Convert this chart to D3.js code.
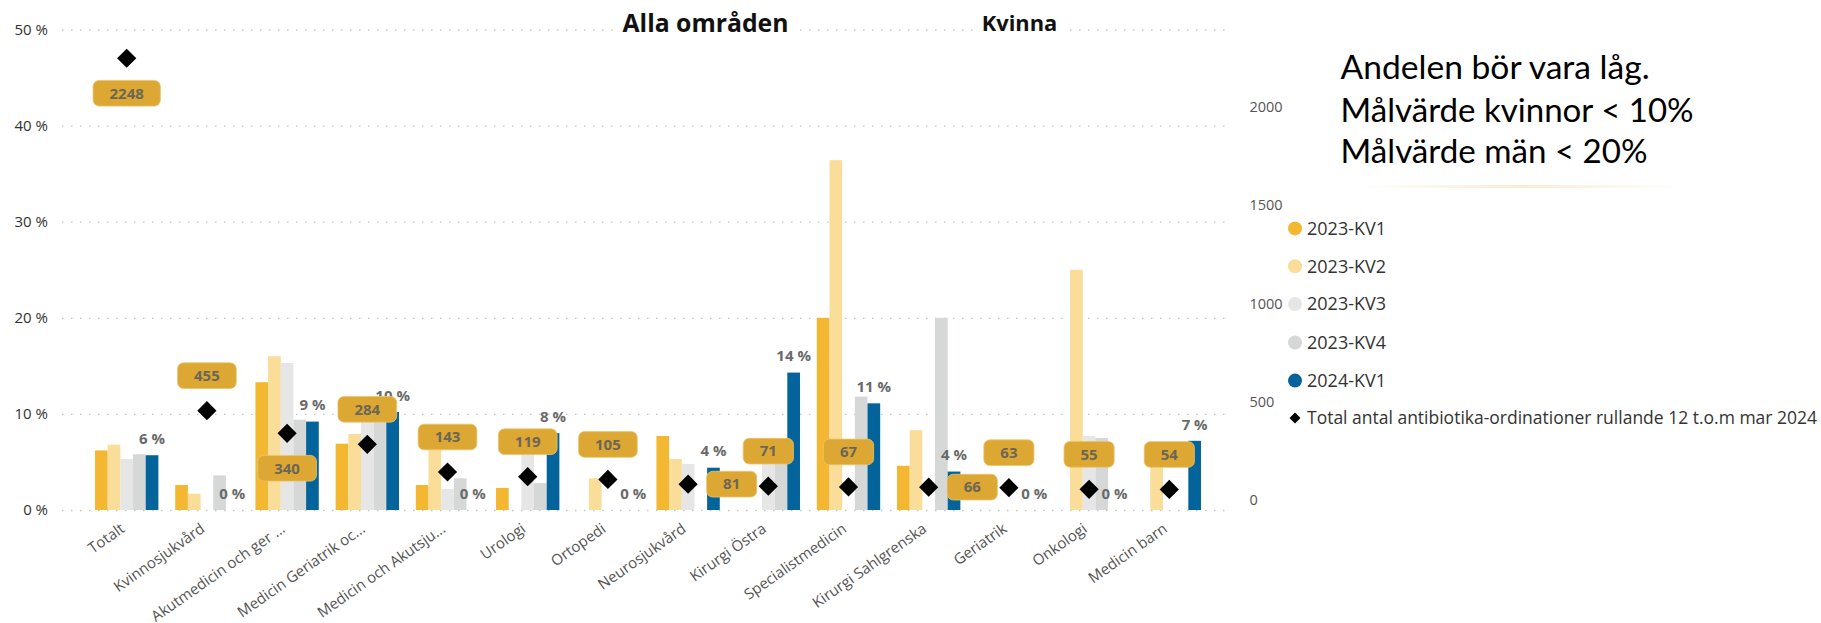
<!DOCTYPE html>
<html>
<head>
<meta charset="utf-8">
<script src="https://cdn.jsdelivr.net/npm/d3@7"></script>
<style>
  html, body { margin: 0; padding: 0; background: #fff; }
  svg { display: block; }
</style>
</head>
<body>
<svg id="chart" width="1821" height="623"></svg>
<script>
// ---------------- DATA ----------------
const categories = [
  "Totalt", "Kvinnosjukvård", "Akutmedicin och ger ...", "Medicin Geriatrik oc...",
  "Medicin och Akutsju...", "Urologi", "Ortopedi", "Neurosjukvård", "Kirurgi Östra",
  "Specialistmedicin", "Kirurgi Sahlgrenska", "Geriatrik", "Onkologi", "Medicin barn"
];
const seriesNames = ["2023-KV1", "2023-KV2", "2023-KV3", "2023-KV4", "2024-KV1"];
// andel (%) per kvartal
const kv1_2023 = [6.2, 2.6, 13.3, 6.9, 2.6, 2.3, 0, 7.7, 0, 20.0, 4.6, 0, 0, 0];
const kv2_2023 = [6.8, 1.7, 16.0, 7.9, 7.0, 0, 3.3, 5.3, 0, 36.4, 8.3, 0, 25.0, 6.0];
const kv3_2023 = [5.3, 0, 15.3, 9.8, 2.2, 6.0, 0, 4.8, 5.0, 0, 0, 0, 7.7, 0];
const kv4_2023 = [5.8, 3.6, 9.4, 10.0, 3.3, 2.8, 0, 0, 5.0, 11.8, 20.0, 0, 7.5, 0];
const kv1_2024 = [5.7, 0, 9.2, 10.2, 0, 8.0, 0, 4.4, 14.3, 11.1, 4.0, 0, 0, 7.2];
// Total antal antibiotika-ordinationer rullande 12 t.o.m mar 2024
const totals = [2248, 455, 340, 284, 143, 119, 105, 81, 71, 67, 66, 63, 55, 54];
const leftTicks = [0, 10, 20, 30, 40, 50];
const rightTicks = [0, 500, 1000, 1500, 2000];
const totalLegend = "Total antal antibiotika-ordinationer rullande 12 t.o.m mar 2024";
const noteLines = ["Andelen bör vara låg.", "Målvärde kvinnor < 10%", "Målvärde män < 20%"];
const titles = ["Alla områden", "Kvinna"];

// ---------------- LAYOUT / STYLE ----------------
const colors = ["#F4B731", "#F9DD98", "#E6E6E6", "#D6D8D8", "#03649B"];
const labelPlacement = ["below","above","below","above","above","above","above","right","above","above","right","above","above","above"];
const FONT = "'Open Sans', 'Noto Sans', sans-serif";

const svg = d3.select("#chart");
const plotLeft = 62, plotRight = 1228;

const x = d3.scaleBand().domain(categories).range([86.6, 1209.4]).paddingInner(0.21).paddingOuter(0.105);
const xs = d3.scaleBand().domain(seriesNames).range([0, x.bandwidth()]);
const yL = d3.scaleLinear().domain([0, 50]).range([510, 29.5]);
const yR = d3.scaleLinear().domain([0, 2000]).range([500.1, 107]);

const seriesData = [kv1_2023, kv2_2023, kv3_2023, kv4_2023, kv1_2024];
const rows = categories.map((c, i) => ({
  cat: c,
  vals: seriesNames.map((s, j) => ({ s, j, v: seriesData[j][i] })),
  total: totals[i],
  place: labelPlacement[i]
}));

// gridlines + left axis
const gL = svg.append("g").attr("transform", `translate(${plotLeft},0)`)
  .call(d3.axisLeft(yL).tickValues(leftTicks).tickFormat(d => d + " %")
    .tickSize(-(plotRight - plotLeft)).tickPadding(14));
gL.select(".domain").remove();
gL.selectAll(".tick line").attr("stroke", "#C6C6C6").attr("stroke-width", 1.3)
  .attr("stroke-dasharray", "1.5,7.5");
gL.selectAll(".tick text").attr("fill", "#333").style("font-family", FONT).style("font-size", "15px");

// right axis
const gR = svg.append("g").attr("transform", `translate(${plotRight},0)`)
  .call(d3.axisRight(yR).tickValues(rightTicks).tickFormat(d3.format("d")).tickSize(0).tickPadding(21.5));
gR.select(".domain").remove();
gR.selectAll(".tick text").attr("fill", "#555").style("font-family", FONT).style("font-size", "14.5px");

// titles (with white background)
const titleX = [705.5, 1019.5];
const titleW = [166, 75.6];
titles.forEach((t, i) => {
  const g = svg.append("g");
  const txt = g.append("text").attr("x", titleX[i]).attr("y", 23.5).attr("dy", "0.35em")
    .attr("text-anchor", "middle").style("font-family", FONT).style("font-weight", 700)
    .style("font-size", "21px").attr("fill", "#111").text(t);
  const L = txt.node().getComputedTextLength();
  txt.style("font-size", (21 * titleW[i] / L).toFixed(2) + "px");
  const bb = txt.node().getBBox();
  g.insert("rect", "text").attr("x", bb.x - 6).attr("y", bb.y).attr("width", bb.width + 12)
    .attr("height", bb.height).attr("fill", "#fff");
});

// bars
const groups = svg.append("g").selectAll("g").data(rows).join("g")
  .attr("transform", d => `translate(${x(d.cat)},0)`);
groups.selectAll("rect").data(d => d.vals.filter(v => v.v > 0)).join("rect")
  .attr("x", d => xs(d.s)).attr("width", xs.bandwidth())
  .attr("y", d => yL(d.v)).attr("height", d => yL(0) - yL(d.v))
  .attr("fill", d => colors[d.j]);

// percent labels over 2024-KV1
svg.append("g").selectAll("text").data(rows).join("text")
  .attr("x", d => x(d.cat) + xs("2024-KV1") + xs.bandwidth() / 2)
  .attr("y", d => yL(d.vals[4].v) - 16.5).attr("dy", "0.35em")
  .attr("text-anchor", "middle").style("font-family", FONT).style("font-weight", 700)
  .style("font-size", "15px").attr("fill", "#6A6A6A")
  .text(d => Math.round(d.vals[4].v) + " %");

// diamonds
const cx = d => x(d.cat) + x.bandwidth() / 2;
svg.append("g").selectAll("path").data(rows).join("path")
  .attr("d", d3.symbol(d3.symbolSquare, 185))
  .attr("transform", d => `translate(${cx(d)},${yR(d.total)}) rotate(45)`)
  .attr("fill", "#000");

// data label boxes
const lab = svg.append("g").selectAll("g").data(rows).join("g");
lab.each(function(d) {
  const g = d3.select(this);
  const t = g.append("text").attr("text-anchor", "middle").attr("dy", "0.35em")
    .style("font-family", FONT).style("font-weight", 700).style("font-size", "15px")
    .attr("fill", "#6B6657").text(d.total);
  const w = t.node().getComputedTextLength() + 33;
  const h = 25.7;
  let bx, by;
  const px = cx(d), py = yR(d.total);
  if (d.place === "above") { bx = px; by = py - 35; }
  else if (d.place === "below") { bx = px; by = py + 35; }
  else { bx = px + 18.5 + w / 2; by = py; }
  g.insert("rect", "text").attr("x", bx - w / 2).attr("y", by - h / 2).attr("width", w).attr("height", h)
    .attr("rx", 6).attr("fill", "#DDA733").attr("stroke", "#E9C56F").attr("stroke-width", 0.8);
  t.attr("x", bx).attr("y", by);
});

// x axis labels
svg.append("g").selectAll("text").data(categories).join("text")
  .attr("transform", d => `translate(${x(d) + x.bandwidth() / 2 - 1},531) rotate(-35)`)
  .attr("text-anchor", "end").style("font-family", FONT).style("font-size", "15px")
  .attr("fill", "#555").text(d => d);

// legend
const lg = svg.append("g");
const legY = [228.4, 266.2, 304, 342.5, 380.6];
seriesNames.forEach((s, i) => {
  lg.append("circle").attr("cx", 1295).attr("cy", legY[i]).attr("r", 7).attr("fill", colors[i]);
  lg.append("text").attr("x", 1307).attr("y", legY[i]).attr("dy", "0.35em")
    .style("font-family", FONT).style("font-size", "18px").attr("fill", "#333").text(s);
});
lg.append("path").attr("d", d3.symbol(d3.symbolSquare, 60))
  .attr("transform", "translate(1295,418) rotate(45)").attr("fill", "#000");
const tl = lg.append("text").attr("x", 1307).attr("y", 418).attr("dy", "0.35em")
  .style("font-family", FONT).style("font-size", "18px").attr("fill", "#333").text(totalLegend);
if (tl.node().getComputedTextLength() > 510) tl.attr("textLength", 510).attr("lengthAdjust", "spacingAndGlyphs");

// note text
const defs = svg.append("defs");
const gr = defs.append("linearGradient").attr("id", "shade");
gr.append("stop").attr("offset", "0%").attr("stop-color", "#F3E9C8").attr("stop-opacity", 0);
gr.append("stop").attr("offset", "50%").attr("stop-color", "#F3E9C8").attr("stop-opacity", 0.8);
gr.append("stop").attr("offset", "100%").attr("stop-color", "#F3E9C8").attr("stop-opacity", 0);
svg.append("rect").attr("x", 1355).attr("y", 185).attr("width", 330).attr("height", 3).attr("fill", "url(#shade)");
const noteY = [67.5, 110.5, 152];
const noteW = [309, 353, 307];
noteLines.forEach((t, i) => {
  const tx = svg.append("text").attr("x", 1340.6).attr("y", noteY[i]).attr("dy", "0.35em")
    .style("font-family", "Lato, 'Open Sans', sans-serif").style("font-size", "32px")
    .attr("fill", "#000").text(t);
  const L = tx.node().getComputedTextLength();
  if (Math.abs(L - noteW[i]) > 4) tx.attr("textLength", noteW[i]).attr("lengthAdjust", "spacingAndGlyphs");
});
</script>
</body>
</html>
